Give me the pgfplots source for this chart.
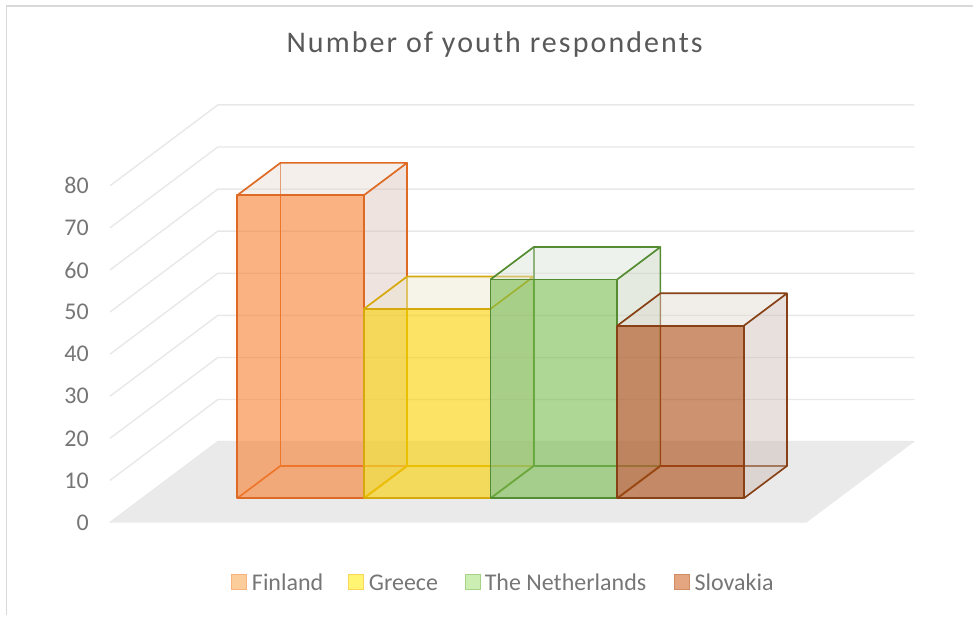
\documentclass[border=0pt]{standalone}
\usepackage{fontspec}
\setmainfont{Carlito}
\usepackage{pgfplots}
\pgfplotsset{compat=1.18}
\usetikzlibrary{calc}

\definecolor{gridc}{RGB}{232,232,232}
\definecolor{floorc}{RGB}{234,234,234}
\definecolor{tickc}{RGB}{118,118,118}
\definecolor{titlec}{RGB}{89,89,89}
\definecolor{borderc}{RGB}{217,217,217}

\definecolor{fiF}{RGB}{247,127,47}\definecolor{fiE}{RGB}{222,106,36}\definecolor{fiS}{RGB}{218,193,184}\definecolor{fiT}{RGB}{231,220,211}
\definecolor{grF}{RGB}{250,208,0}\definecolor{grE}{RGB}{214,168,10}\definecolor{grS}{RGB}{226,215,190}\definecolor{grT}{RGB}{236,229,207}
\definecolor{nlF}{RGB}{120,187,77}\definecolor{nlE}{RGB}{84,140,50}\definecolor{nlS}{RGB}{198,209,189}\definecolor{nlT}{RGB}{218,227,213}
\definecolor{skF}{RGB}{172,73,17}\definecolor{skE}{RGB}{135,65,20}\definecolor{skS}{RGB}{204,187,180}\definecolor{skT}{RGB}{224,218,209}

% #1 x0, #2 x1, #3 value, #4 front, #5 edge, #6 side, #7 top
\newcommand{\cuboid}[7]{%
 \addplot3[forget plot, mark=none, draw=#5, line width=1.7pt, line join=round] coordinates {(#1,0.3,0) (#1,0.7,0) (#2,0.7,0)};
 \addplot3[forget plot, mark=none, draw=#5, line width=1.7pt] coordinates {(#1,0.7,0) (#1,0.7,#3)};
 \addplot3[forget plot, mark=none, draw=none, fill=#6, fill opacity=0.45] coordinates {(#2,0.3,0) (#2,0.7,0) (#2,0.7,#3) (#2,0.3,#3)} -- cycle;
 \addplot3[forget plot, mark=none, draw=none, fill=#7, fill opacity=0.45] coordinates {(#1,0.3,#3) (#2,0.3,#3) (#2,0.7,#3) (#1,0.7,#3)} -- cycle;
 \addplot3[forget plot, mark=none, draw=none, fill=#4, fill opacity=0.6] coordinates {(#1,0.3,0) (#2,0.3,0) (#2,0.3,#3) (#1,0.3,#3)} -- cycle;
 \addplot3[forget plot, mark=none, draw=#5, line width=1.7pt, line join=round] coordinates {(#1,0.3,0) (#2,0.3,0) (#2,0.3,#3) (#1,0.3,#3)} -- cycle;
 \addplot3[forget plot, mark=none, draw=#5, line width=1.7pt, line join=round] coordinates {(#1,0.3,#3) (#1,0.7,#3) (#2,0.7,#3) (#2,0.3,#3)};
 \addplot3[forget plot, mark=none, draw=#5, line width=1.7pt, line join=round] coordinates {(#2,0.7,#3) (#2,0.7,0) (#2,0.3,0)};
}

\begin{document}
\begin{tikzpicture}
\begin{axis}[
  hide axis, clip=false,
  x={(126.75pt,0pt)}, y={(108pt,81pt)}, z={(0pt,4.2125pt)},
  xmin=0, xmax=5.5, ymin=0, ymax=1, zmin=0, zmax=80,
]
\coordinate (O) at (0,0,0);
% walls gridlines
\pgfplotsinvokeforeach{0,10,20,30,40,50,60,70,80}{
  \draw[gridc, line width=1.4pt] (0,0,#1) -- (0,1,#1) -- (5.5,1,#1);
  \node[anchor=east, inner sep=0pt, text=tickc, font=\fontsize{24}{28}\selectfont] at (0,0,#1) [xshift=-21pt] {#1};
}
% floor
\fill[floorc] (0,0,0) -- (5.5,0,0) -- (5.5,1,0) -- (0,1,0) -- cycle;
% bars: Finland 72, Greece 45, The Netherlands 52, Slovakia 41
\cuboid{0.75}{1.75}{72}{fiF}{fiE}{fiS}{fiT}
\cuboid{1.75}{2.75}{45}{grF}{grE}{grS}{grT}
\cuboid{2.75}{3.75}{52}{nlF}{nlE}{nlS}{nlT}
\cuboid{3.75}{4.75}{41}{skF}{skE}{skS}{skT}
\end{axis}
\begin{scope}[shift={($(O)+(-110pt,523pt)$)}, x=1pt, y=-1pt]
  \path (0,0) rectangle (974,616);
  \draw[borderc, line width=1.6pt] (6.5,616) -- (6.5,6) -- (974,6);
  \node[anchor=base, inner sep=0pt, text=titlec, font=\fontsize{30}{36}\selectfont\addfontfeature{LetterSpace=7}] at (495,53) {Number of youth respondents};
  \begin{scope}[font=\fontsize{24}{28}\selectfont, text=tickc]
    \filldraw[fill={rgb,255:red,251;green,205;blue,155}, draw={rgb,255:red,247;green,178;blue,128}, line width=0.8pt] (232,575) rectangle ++(15,15);
    \node[anchor=base west, inner sep=0pt] at (252,591) {Finland};
    \filldraw[fill={rgb,255:red,255;green,245;blue,115}, draw={rgb,255:red,250;green,215;blue,90}, line width=0.8pt] (349,575) rectangle ++(15,15);
    \node[anchor=base west, inner sep=0pt] at (369,591) {Greece};
    \filldraw[fill={rgb,255:red,204;green,238;blue,178}, draw={rgb,255:red,165;green,210;blue,135}, line width=0.8pt] (466,575) rectangle ++(15,15);
    \node[anchor=base west, inner sep=0pt] at (485,591) {The Netherlands};
    \filldraw[fill={rgb,255:red,228;green,166;blue,128}, draw={rgb,255:red,210;green,140;blue,100}, line width=0.8pt] (675,575) rectangle ++(15,15);
    \node[anchor=base west, inner sep=0pt] at (695,591) {Slovakia};
  \end{scope}
\end{scope}
\end{tikzpicture}
\end{document}
